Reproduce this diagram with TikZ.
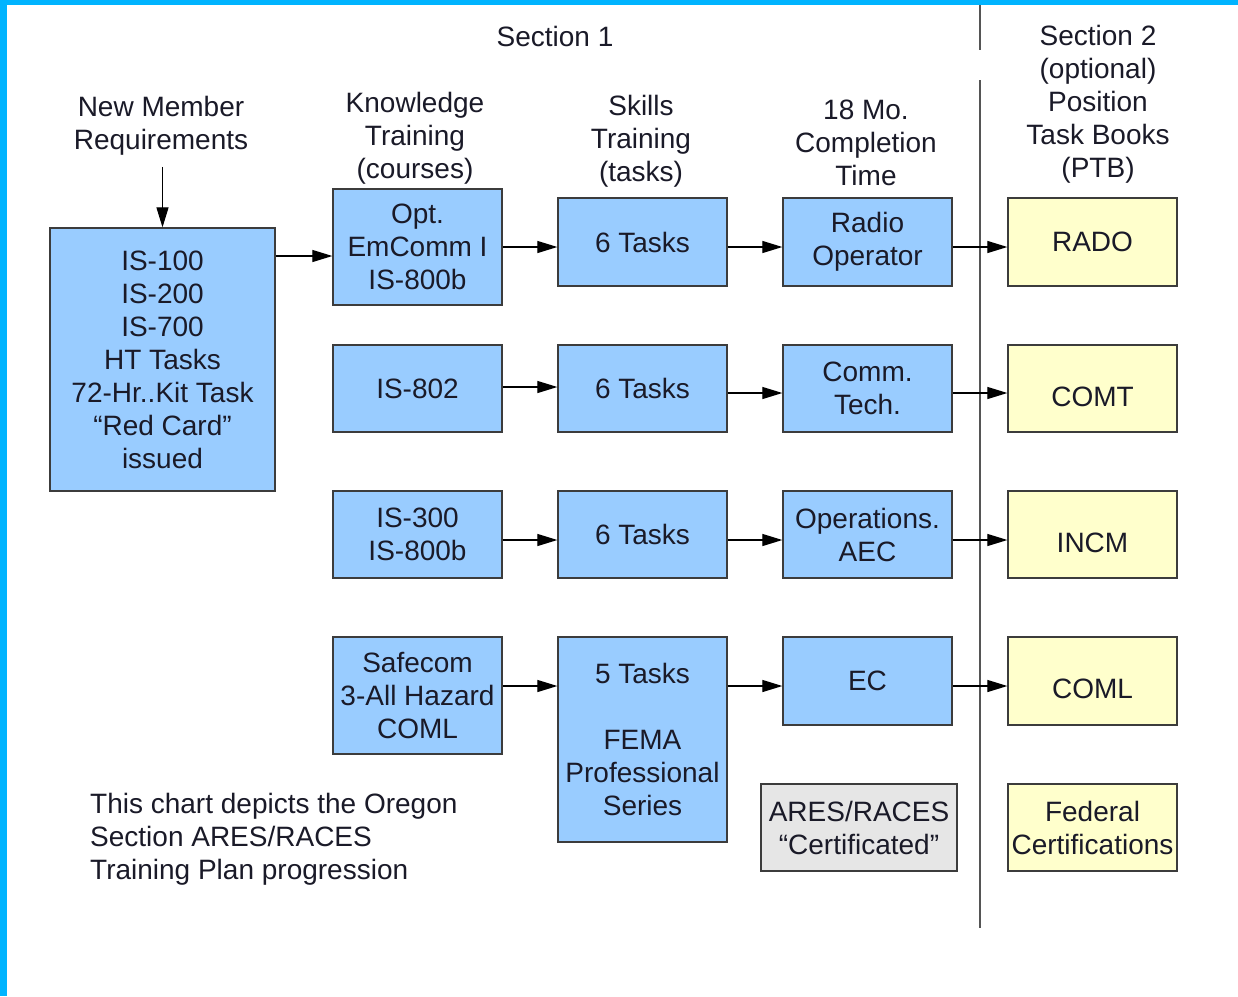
\documentclass[tikz,border=0pt]{standalone}
\usepackage{fontspec}
\setmainfont{Liberation Sans}
\usetikzlibrary{arrows.meta}
\definecolor{boxblue}{HTML}{99CCFF}
\definecolor{boxyellow}{HTML}{FFFFCC}
\definecolor{boxgray}{HTML}{E6E6E6}
\definecolor{frameblue}{RGB}{0,180,255}
\definecolor{edgecol}{HTML}{3C3C3C}
\definecolor{txt}{HTML}{1A1A28}
\definecolor{divcol}{HTML}{555555}
\begin{document}
\begin{tikzpicture}[x=1pt,y=-1pt,
  base/.style={draw=edgecol, line width=1.3pt, align=center, inner sep=0pt, text=txt,
    font=\fontsize{28}{33}\selectfont, minimum width=169pt, minimum height=88pt},
  bluebox/.style={base, fill=boxblue},
  yellowbox/.style={base, fill=boxyellow},
  lowtext/.style={text height=35pt, text depth=0pt},
  graybox/.style={base, fill=boxgray},
  lbl/.style={align=center, inner sep=0pt, text=txt, font=\fontsize{28}{33}\selectfont},
  arr/.style={-{Triangle[length=20pt,width=12pt]}, line width=1.2pt, draw=black},
  divider/.style={draw=divcol, line width=1.3pt}
]
\useasboundingbox (0,0) rectangle (1238,996);
\fill[white] (0,0) rectangle (1238,996);
\fill[frameblue] (0,0) rectangle (1238,5);
\fill[frameblue] (0,0) rectangle (7,996);

% divider
\coordinate (d1) at (980,5);
\coordinate (d2) at (980,50);
\coordinate (d3) at (980,80);
\coordinate (d4) at (980,928);
\draw[divider] (d1) -- (d2);
\draw[divider] (d3) -- (d4);

% header labels
\node[lbl] (sec1) at (555,36) {Section 1};
\node[lbl] (nmr) at (161,126) {New Member\\Requirements};
\node[lbl] (kt) at (415,138) {Knowledge\\Training\\(courses)};
\node[lbl] (st) at (641,141) {Skills\\Training\\(tasks)};
\node[lbl] (ct) at (866,143) {18 Mo.\\Completion\\Time};
\node[lbl] (sec2) at (1098,104) {Section 2\\(optional)\\Position\\Task Books\\(PTB)};

% left box
\node[bluebox, minimum width=225pt, minimum height=263pt] (req) at (162.5,359.5)
  {IS-100\\IS-200\\IS-700\\HT Tasks\\72-Hr..Kit Task\\“Red Card”\\issued};

% column 2
\node[bluebox, minimum height=116pt] (opt) at (417.5,247) {Opt.\\EmComm I\\IS-800b};
\node[bluebox, minimum height=87pt] (is802) at (417.5,388.5) {IS-802};
\node[bluebox, minimum height=87pt] (is300) at (417.5,534.5) {IS-300\\IS-800b};
\node[bluebox, minimum height=117pt] (safe) at (417.5,695.5) {Safecom\\3-All Hazard\\COML};

% column 3
\node[bluebox] (t1) at (642.5,242) {6 Tasks};
\node[bluebox, minimum height=87pt] (t2) at (642.5,388.5) {6 Tasks};
\node[bluebox, minimum height=87pt] (t3) at (642.5,534.5) {6 Tasks};
\node[bluebox, minimum height=205pt] (t4) at (642.5,739.5) {5 Tasks\\ \\FEMA\\Professional\\Series};

% column 4
\node[bluebox] (radio) at (867.5,242) {Radio\\Operator};
\node[bluebox, minimum height=87pt] (comm) at (867.5,388.5) {Comm.\\Tech.};
\node[bluebox, minimum height=87pt] (ops) at (867.5,534.5) {Operations.\\AEC};
\node[bluebox] (ec) at (867.5,681) {EC};
\node[graybox, minimum width=196pt, minimum height=87pt] (ares) at (859,827.5) {ARES/RACES\\“Certificated”};

% column 5
\node[yellowbox] (rado) at (1092.5,242) {RADO};
\node[yellowbox, lowtext, minimum height=87pt] (comt) at (1092.5,388.5) {COMT};
\node[yellowbox, lowtext, minimum height=87pt] (incm) at (1092.5,534.5) {INCM};
\node[yellowbox, lowtext] (coml) at (1092.5,681) {COML};
\node[yellowbox, minimum height=87pt] (fed) at (1092.5,827.5) {Federal\\Certifications};

% note
\node[lbl, align=left, anchor=west] (note) at (90,839)
  {This chart depicts the Oregon\\Section ARES/RACES\\Training Plan progression};

% arrows
\draw[arr, shorten <=11pt] (nmr.south -| req.north) -- (req.north);
\draw[arr] ([yshift=103.5pt]req.east) -- ([yshift=-9pt]opt.west);

\draw[arr] (opt.east) -- ([yshift=-5pt]t1.west);
\draw[arr] ([yshift=-5pt]t1.east) -- ([yshift=-5pt]radio.west);
\draw[arr] ([yshift=-5pt]radio.east) -- ([yshift=-5pt]rado.west);

\draw[arr] ([yshift=1.5pt]is802.east) -- ([yshift=1.5pt]t2.west);
\draw[arr] ([yshift=-4.5pt]t2.east) -- ([yshift=-4.5pt]comm.west);
\draw[arr] ([yshift=-4.5pt]comm.east) -- ([yshift=-4.5pt]comt.west);

\draw[arr] ([yshift=-5.5pt]is300.east) -- ([yshift=-5.5pt]t3.west);
\draw[arr] ([yshift=-5.5pt]t3.east) -- ([yshift=-5.5pt]ops.west);
\draw[arr] ([yshift=-5.5pt]ops.east) -- ([yshift=-5.5pt]incm.west);

\draw[arr] ([yshift=9.5pt]safe.east) -- ([yshift=53.5pt]t4.west);
\draw[arr] ([yshift=53.5pt]t4.east) -- ([yshift=-5pt]ec.west);
\draw[arr] ([yshift=-5pt]ec.east) -- ([yshift=-5pt]coml.west);
\end{tikzpicture}
\end{document}
